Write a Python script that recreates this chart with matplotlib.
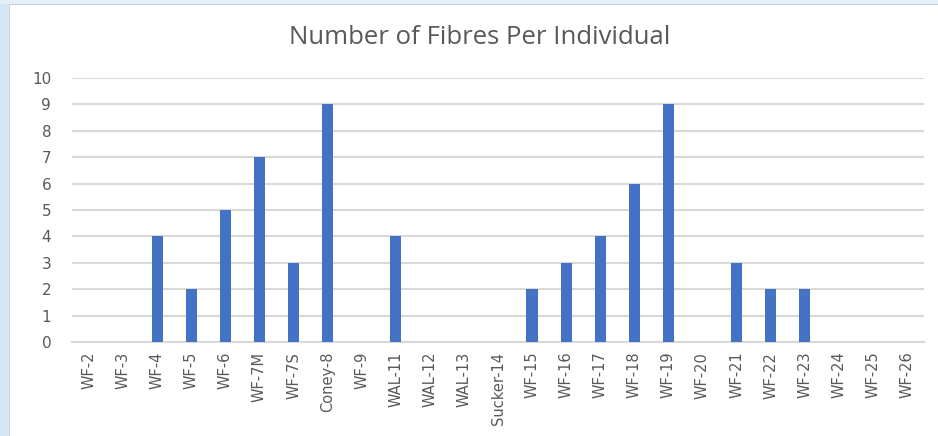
import matplotlib
matplotlib.use("Agg")
import matplotlib.pyplot as plt
from matplotlib.patches import Rectangle

# fibre counts per sampled individual
individuals = ["WF-2", "WF-3", "WF-4", "WF-5", "WF-6", "WF-7M", "WF-7S",
               "Coney-8", "WF-9", "WAL-11", "WAL-12", "WAL-13", "Sucker-14",
               "WF-15", "WF-16", "WF-17", "WF-18", "WF-19", "WF-20", "WF-21",
               "WF-22", "WF-23", "WF-24", "WF-25", "WF-26"]
fibres = [0, 0, 4, 2, 5, 7, 3, 9, 0, 4, 0, 0, 0,
          2, 3, 4, 6, 9, 0, 3, 2, 2, 0, 0, 0]
y_ticks = list(range(0, 11))

bar_color = "#4472c4"
grid_color = "#d9d9d9"
text_color = "#595959"

fig = plt.figure(figsize=(9.38, 4.36), dpi=100)
fig.patch.set_facecolor("white")

# pale blue frame strips along the left and top edges
fig.patches.append(Rectangle((0, 0), 9 / 938, 1, transform=fig.transFigure,
                             facecolor="#d8e7f4", edgecolor="none", zorder=0))
fig.patches.append(Rectangle((0, 1 - 4 / 436), 1, 4 / 436, transform=fig.transFigure,
                             facecolor="#e4eef8", edgecolor="none", zorder=0))
fig.patches.append(Rectangle((9 / 938, 0), 1.2 / 938, 1 - 4 / 436, transform=fig.transFigure,
                             facecolor="#d0d0d0", edgecolor="none", zorder=0))
fig.patches.append(Rectangle((9 / 938, 1 - 5.2 / 436), 1, 1.2 / 436, transform=fig.transFigure,
                             facecolor="#d0d0d0", edgecolor="none", zorder=0))

ax = fig.add_axes([72 / 938, 1 - 342 / 436, 852 / 938, 264 / 436])
ax.set_facecolor("white")

x = list(range(len(individuals)))
ax.bar(x, fibres, width=0.33, color=bar_color, zorder=3)

ax.set_xlim(-0.5, len(individuals) - 0.5)
ax.set_ylim(0, 10)
ax.set_yticks(y_ticks)
ax.set_xticks(x)
ax.set_xticklabels(individuals, rotation=90, color=text_color, fontsize=10.5,
                   family="DejaVu Sans")
ax.tick_params(axis="y", length=0, pad=15, labelcolor=text_color, labelsize=11)
ax.tick_params(axis="x", length=0, pad=7)

ax.grid(axis="y", color=grid_color, linewidth=1.5, zorder=0)
for side in ["top", "right", "left"]:
    ax.spines[side].set_visible(False)
ax.spines["bottom"].set_color(grid_color)
ax.spines["bottom"].set_linewidth(1.5)

fig.text(480 / 938, 1 - 37 / 436, "Number of Fibres Per Individual",
         ha="center", va="center", fontsize=18.5, color=text_color,
         family="Open Sans")

fig.savefig("out.png", dpi=100)
